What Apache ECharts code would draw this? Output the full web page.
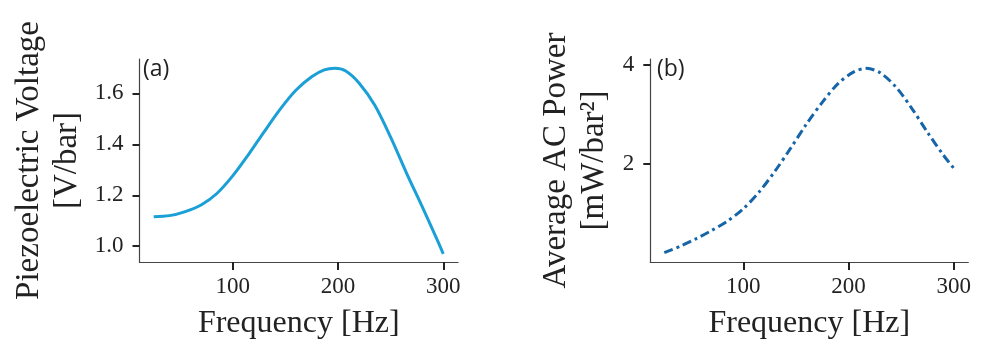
<!DOCTYPE html>
<html>
<head>
<meta charset="utf-8">
<script src="https://cdn.jsdelivr.net/npm/echarts@6/dist/echarts.min.js"></script>
<style>
  html, body { margin: 0; padding: 0; background: #fff; }
  #chart { width: 982px; height: 342px; }
</style>
</head>
<body>
<div id="chart"></div>
<script>
// frequency [Hz] and piezoelectric voltage [V/bar], panel (a)
const freqA = [25, 40, 55, 70, 85, 100, 115, 130, 145, 160, 175, 187, 197, 207, 220, 235, 250, 265, 280, 295, 300]
const voltage = [1.116, 1.120, 1.136, 1.162, 1.207, 1.276, 1.360, 1.450, 1.537, 1.612, 1.665, 1.692, 1.699, 1.689, 1.641, 1.553, 1.428, 1.288, 1.155, 1.018, 0.970]

// frequency [Hz] and average AC power [mW/bar^2], panel (b)
const freqB = [25, 40, 55, 70, 85, 100, 115, 130, 145, 160, 175, 190, 205, 217, 230, 245, 260, 275, 290, 300]
const power = [0.19, 0.32, 0.47, 0.64, 0.83, 1.08, 1.42, 1.84, 2.31, 2.80, 3.24, 3.62, 3.86, 3.93, 3.84, 3.55, 3.12, 2.63, 2.17, 1.90]

const xTicks = [100, 200, 300]
const yTicksA = [1.0, 1.2, 1.4, 1.6]
const yTicksB = [2, 4]

const serif = 'Liberation Serif'
const ink = '#222'

const pairs = (xs, ys) => xs.map((x, i) => [x, ys[i]])

const xAxisBase = {
  type: 'value',
  name: 'Frequency [Hz]',
  nameLocation: 'middle',
  nameGap: 46,
  nameTextStyle: { fontFamily: serif, fontSize: 32, color: ink },
  axisLine: { show: true, lineStyle: { color: '#444', width: 1.2 } },
  axisTick: { show: true, customValues: xTicks, length: 8, lineStyle: { color: ink, width: 2 } },
  axisLabel: { customValues: xTicks, margin: 13, fontFamily: serif, fontSize: 23, color: ink },
  splitLine: { show: false }
}

const yAxisBase = {
  type: 'value',
  nameLocation: 'middle',
  nameRotate: 90,
  nameTextStyle: { fontFamily: serif, fontSize: 33, color: ink, lineHeight: 38 },
  axisLine: { show: true, lineStyle: { color: '#444', width: 1.2 } },
  axisTick: { show: true, length: 7, lineStyle: { color: ink, width: 2 } },
  axisLabel: { margin: 16, fontFamily: serif, fontSize: 23, color: ink },
  splitLine: { show: false }
}

const option = {
  animation: false,
  backgroundColor: '#fff',
  grid: [
    { left: 139.5, top: 59, width: 318.5, height: 203, outerBoundsMode: 'none' },
    { left: 650.3, top: 59, width: 318, height: 203, outerBoundsMode: 'none' }
  ],
  xAxis: [
    { ...xAxisBase, gridIndex: 0, min: 11.5, max: 314 },
    { ...xAxisBase, gridIndex: 1, min: 11.7, max: 313.7 }
  ],
  yAxis: [
    {
      ...yAxisBase,
      gridIndex: 0,
      min: 0.938,
      max: 1.735,
      name: 'Piezoelectric Voltage\n[V/bar]',
      nameGap: 53,
      axisTick: { ...yAxisBase.axisTick, customValues: yTicksA },
      axisLabel: { ...yAxisBase.axisLabel, customValues: yTicksA, formatter: v => v.toFixed(1) }
    },
    {
      ...yAxisBase,
      gridIndex: 1,
      min: 0,
      max: 4.12,
      name: 'Average AC Power\n[mW/bar²]',
      nameGap: 37,
      axisTick: { ...yAxisBase.axisTick, customValues: yTicksB },
      axisLabel: { ...yAxisBase.axisLabel, customValues: yTicksB }
    }
  ],
  graphic: [
    { type: 'text', left: 143, top: 58, style: { text: '(a)', fontFamily: 'Open Sans', fontSize: 23, fill: ink } },
    { type: 'text', left: 657, top: 58, style: { text: '(b)', fontFamily: 'Open Sans', fontSize: 23, fill: ink } }
  ],
  series: [
    {
      type: 'line',
      xAxisIndex: 0,
      yAxisIndex: 0,
      data: pairs(freqA, voltage),
      smooth: 0.3,
      showSymbol: false,
      lineStyle: { color: '#1a9fd6', width: 3 }
    },
    {
      type: 'line',
      xAxisIndex: 1,
      yAxisIndex: 1,
      data: pairs(freqB, power),
      smooth: 0.3,
      showSymbol: false,
      lineStyle: { color: '#1565a8', width: 3, type: [9, 4, 3, 4] }
    }
  ]
}

const myChart = echarts.init(document.getElementById('chart'))
myChart.setOption(option)
</script>
</body>
</html>
